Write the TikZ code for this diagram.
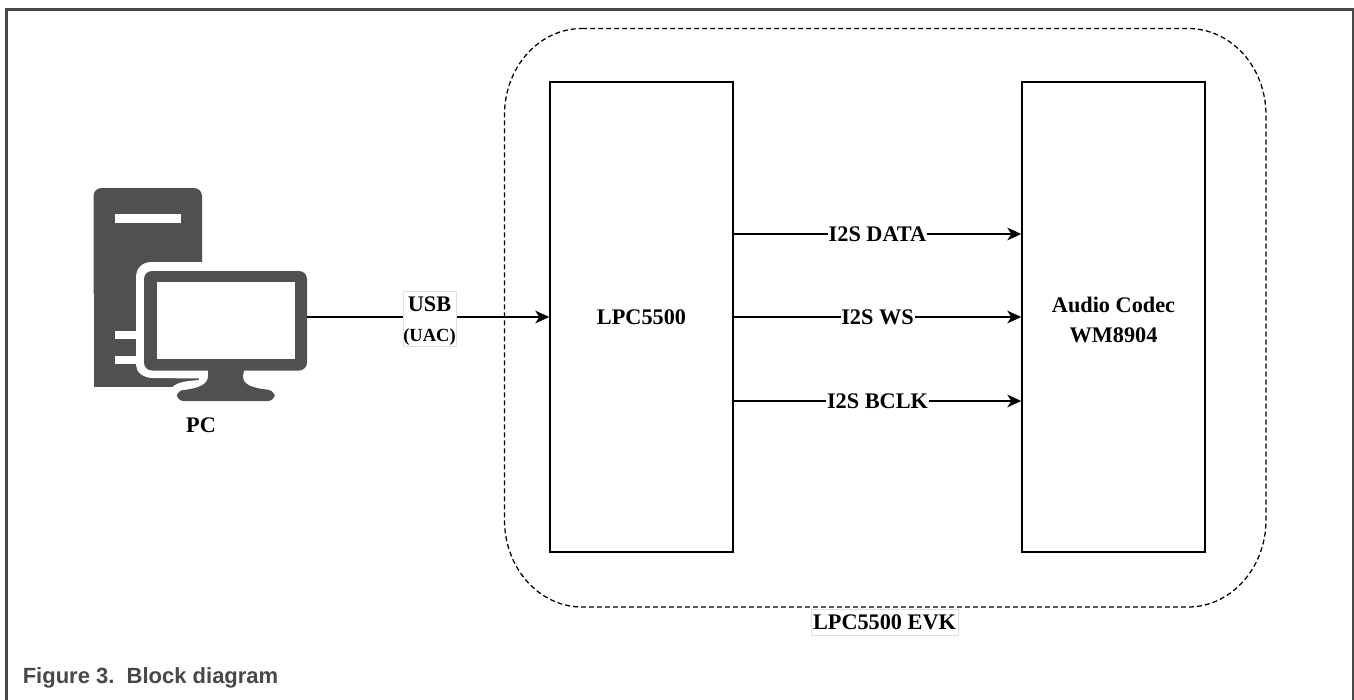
\documentclass[tikz,border=0pt]{standalone}
\usepackage{fontspec}
\setmainfont{Liberation Serif}
\newfontfamily\capfont{Liberation Sans}
\usetikzlibrary{arrows.meta}
\definecolor{icon}{HTML}{505050}
\definecolor{frame}{HTML}{484848}
\tikzset{
  x=0.75pt,y=-0.75pt,
  blockbox/.style={draw=black,line width=1.05pt,fill=white,minimum width=137.25pt,minimum height=352.5pt,inner sep=0pt,font=\bfseries\fontsize{16.7}{22.5}\selectfont,align=center},
  conn/.style={draw=black,line width=0.95pt,-{Stealth[length=10.5pt,width=9.5pt,inset=3pt]}},
  lab/.style={fill=white,inner sep=0.6pt,font=\bfseries\fontsize{16.7}{20}\selectfont,text=black},
  tagbox/.style={fill=white,draw=black!12,line width=0.5pt,inner sep=0pt,align=center},
}
\begin{document}
\begin{tikzpicture}
\useasboundingbox (0,0) rectangle (1354,700);
\fill[white] (0,0) rectangle (1354,700);
% frame
\draw[frame,line width=1.9pt] (6.3,700) -- (6.3,9.3) -- (1353,9.3) -- (1353,700);
% dashed group
\draw[black,line width=0.95pt,dash pattern=on 3.75pt off 2.25pt]
  (582,28.5) -- (1188,28.5) .. controls (1231,28.5) and (1266,67) .. (1266,115)
  -- (1266,520) .. controls (1266,568) and (1231,607) .. (1188,607)
  -- (582,607) .. controls (539,607) and (504.5,568) .. (504.5,520)
  -- (504.5,115) .. controls (504.5,67) and (539,28.5) .. (582,28.5) -- cycle;
% blocks
\node[blockbox] (mcu) at (641.5,317) {LPC5500};
\node[blockbox] (codec) at (1113.5,317) {\rule{0pt}{16pt}Audio Codec\\WM8904};
% PC icon
\coordinate (pcout) at (307,317);
\fill[icon,rounded corners=6pt] (93.5,188) rectangle (202,300);
\fill[icon] (93.5,280) rectangle (202,387) -- cycle;
\fill[white] (115,214) rectangle (181,223);
\fill[white] (115,331) rectangle (140,339);
\fill[white] (115,356) rectangle (140,364);
% halo and cut at the lower right of the tower
\fill[white] (203,262) -- (152,262) .. controls (142,262) and (136,268) .. (136,278)
  -- (136,365) .. controls (136,372) and (143,378) .. (153,378)
  -- (199,378.5) -- (199,380) .. controls (190,381) and (178,381) .. (172,387.5)
  -- (203,388) -- cycle;
\fill[icon,rounded corners=6pt] (144,271) rectangle (307,370.5);
\fill[white] (157,282) rectangle (295,359);
\fill[icon] (208,370) -- (208,376) .. controls (208,384) and (200,388) .. (184,390)
  -- (270,390) .. controls (252,388) and (243,385) .. (243,376) -- (244,370) -- cycle;
\fill[icon,rounded corners=5pt] (177,390) rectangle (274.5,401);
% labels
\node[font=\bfseries\fontsize{16.7}{20}\selectfont] (pc) at (201,425) {PC};
\draw[conn] (pcout) -- (mcu.west);
\node[tagbox,minimum width=39.75pt,minimum height=41.25pt,font=\bfseries\fontsize{13.9}{22}\selectfont] (usb) at (429.5,318.5)
  {\rule{0pt}{15pt}{\fontsize{16.7}{22}\selectfont USB}\\(UAC)};
\foreach \nm/\yy/\tx in {d/234/I2S DATA,w/317/I2S WS,b/401/I2S BCLK}{
  \coordinate (a\nm) at (mcu.east |- 0,\yy);
  \coordinate (e\nm) at (codec.west |- 0,\yy);
  \draw[conn] (a\nm) -- (e\nm) node[midway,lab] (l\nm) {\tx};
}
\node[tagbox,minimum width=110pt,minimum height=19.5pt,font=\bfseries\fontsize{16.7}{20}\selectfont] (evk) at (884.5,622) {LPC5500 EVK};
\node[anchor=base west,inner sep=0pt,text=frame,font=\capfont\bfseries\fontsize{16.5}{20}\selectfont] (cap) at (22.5,683) {Figure 3.\ \ Block diagram};
\end{tikzpicture}
\end{document}
